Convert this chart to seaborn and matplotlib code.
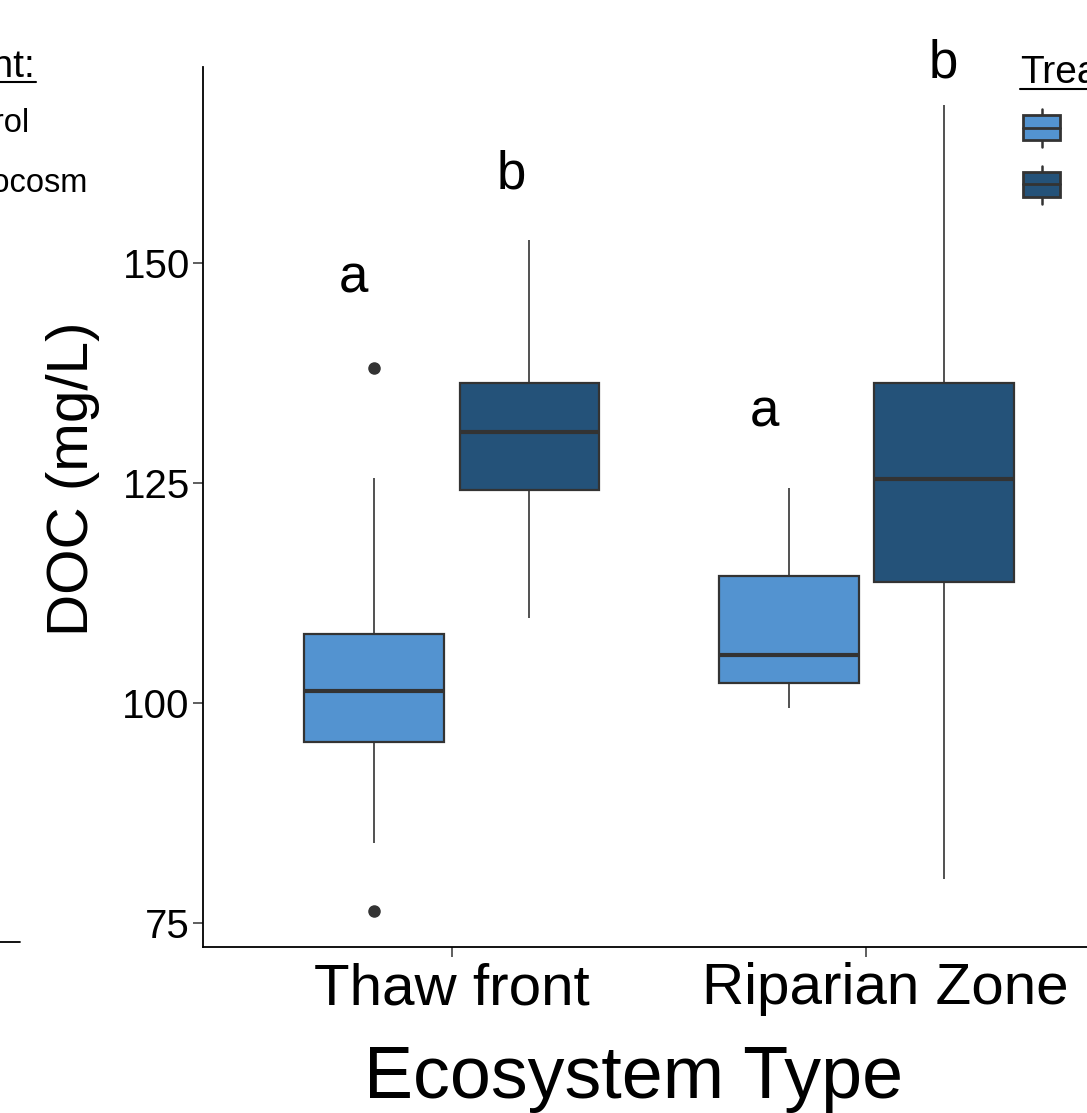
import pandas as pd
import numpy as np
import matplotlib
matplotlib.use("Agg")
import matplotlib.pyplot as plt
import matplotlib.transforms as mtransforms
from matplotlib.patches import Rectangle
from matplotlib.lines import Line2D
import seaborn as sns

sns.set_style("white")
plt.rcParams['font.family'] = ['Liberation Sans', 'DejaVu Sans']
plt.rcParams['text.color'] = 'black'
plt.rcParams['axes.labelcolor'] = 'black'
plt.rcParams['xtick.labelcolor'] = 'black'
plt.rcParams['ytick.labelcolor'] = 'black'

# --------------------------
# DATA (read off the boxes)
# --------------------------
ecosystems = ["Thaw front", "Riparian Zone"]
treatments = ["Control", "Mesocosm"]

thaw_control = [76.4, 84.1, 95.6, 95.6, 101.4, 107.8, 107.8, 125.6, 138.1]
thaw_meso = [109.7, 124.2, 130.8, 136.4, 152.6]
rip_control = [99.4, 102.3, 105.5, 114.4, 124.4]
rip_meso = [80.0, 113.8, 125.5, 136.4, 168.0]

letters = ["a", "b", "a", "b"]
letter_x = [-0.238, 0.145, 0.754, 1.186]
letter_y = [146.6, 158.5, 131.4, 171.1]

colors = ["#5393D0", "#245279"]

groups = [
    ("Thaw front", "Control", thaw_control),
    ("Thaw front", "Mesocosm", thaw_meso),
    ("Riparian Zone", "Control", rip_control),
    ("Riparian Zone", "Mesocosm", rip_meso),
]
rows = []
for eco, trt, vals in groups:
    for v in vals:
        rows.append([eco, trt, v])
df = pd.DataFrame(rows, columns=["Ecosystem", "Treatment", "DOC"])

# --------------------------
# PLOT
# --------------------------
W, H = 1087, 1113
fig = plt.figure(figsize=(W / 100, H / 100), dpi=100)
ax = fig.add_axes([203 / W, 166 / H, 912 / W, 880 / H])

sns.boxplot(
    data=df, x="Ecosystem", y="DOC", hue="Treatment",
    order=ecosystems, hue_order=treatments,
    palette=colors, saturation=1,
    width=0.75, gap=0.1,
    linecolor="#333333", linewidth=1.6,
    showcaps=False, fliersize=8, whis=1.5,
    flierprops=dict(marker="o", markerfacecolor="#333333", markeredgecolor="#333333"),
    whiskerprops=dict(linewidth=1.2),
    medianprops=dict(linewidth=3),
    legend=False, ax=ax
)

for lx, ly, lt in zip(letter_x, letter_y, letters):
    ax.text(lx, ly, lt, ha="center", va="baseline", fontsize=38, color="black")

ax.set_xlim(-0.6, 1.6)
ax.set_ylim(72.27, 172.27)
ax.set_yticks([75, 100, 125, 150])

sns.despine(ax=ax)
for s in ["left", "bottom"]:
    ax.spines[s].set_color("black")
    ax.spines[s].set_linewidth(1.3)

ax.tick_params(axis="y", labelsize=29, length=7.5, width=1.1, color="#333333", pad=2)
ax.tick_params(axis="x", labelsize=42, length=7.5, width=1.1, color="#333333", pad=3.5)
ax.tick_params(direction="out", left=True, bottom=True)

# second category label sits a bit right of its tick in the original
lbl = ax.get_xticklabels()[1]
lbl.set_transform(lbl.get_transform() + mtransforms.ScaledTranslation(0.19, 0, fig.dpi_scale_trans))

ax.set_xlabel("Ecosystem Type", fontsize=53)
ax.xaxis.label.set_va("baseline")
ax.xaxis.set_label_coords(0.4726, -0.1716)
ax.set_ylabel("DOC (mg/L)", fontsize=42)
ax.yaxis.label.set_va("center")
ax.yaxis.set_label_coords(-0.1425, 0.532)

# --------------------------
# LEGENDS (neighbouring panel cut at left, own legend cut at right)
# --------------------------
def fx(px):
    return px / W

def fy(py):
    return 1 - py / H

fig.text(fx(35), fy(77), "Treatment:", ha="right", va="baseline", fontsize=28)
fig.add_artist(Line2D([fx(-200), fx(36)], [fy(82), fy(82)], color="black", lw=1.5))
fig.text(fx(30), fy(132), "Control", ha="right", va="baseline", fontsize=23.5)
fig.text(fx(88), fy(192), "Mesocosm", ha="right", va="baseline", fontsize=23.5)
fig.add_artist(Line2D([fx(0), fx(20)], [fy(942), fy(942)], color="black", lw=1.3))

fig.text(fx(1020), fy(83), "Treatment:", ha="left", va="baseline", fontsize=28)
fig.add_artist(Line2D([fx(1020), fx(1300)], [fy(89), fy(89)], color="black", lw=1.5))

key_tops = [115, 172]
for kt, col, name in zip(key_tops, colors, treatments):
    fig.add_artist(Line2D([fx(1041.5), fx(1041.5)], [fy(kt - 6), fy(kt + 32)],
                          color="#333333", lw=1.8, zorder=1))
    fig.add_artist(Rectangle((fx(1023), fy(kt + 25)), 37 / W, 25 / H,
                             facecolor=col, edgecolor="#333333", lw=2,
                             transform=fig.transFigure, zorder=2))
    fig.add_artist(Line2D([fx(1023), fx(1060)], [fy(kt + 12.5), fy(kt + 12.5)],
                          color="#333333", lw=2, zorder=3))
    fig.text(fx(1086), fy(kt + 22), name, ha="left", va="baseline", fontsize=28)

fig.savefig("out.png", dpi=100)
